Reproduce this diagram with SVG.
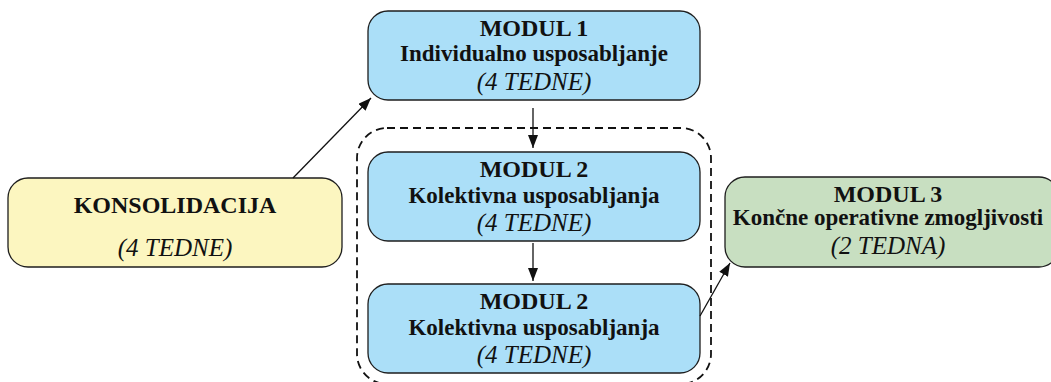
<svg xmlns="http://www.w3.org/2000/svg" width="1051" height="382" viewBox="0 0 1051 382">
<style>
.box{stroke:#1e1e1e;stroke-width:1.3}
.blue{fill:#abdff8}
.yellow{fill:#fcf6c0}
.green{fill:#c8dfc1}
.t{font-family:"Liberation Serif",serif;fill:#111;text-anchor:middle}
.h{font-weight:bold;font-size:24px}
.s{font-weight:bold;font-size:23px}
.i{font-style:italic;font-size:25px}
.edge{stroke:#111;stroke-width:1.3;fill:none;marker-end:url(#ah)}
</style>
<defs>
<marker id="ah" viewBox="0 0 13 10" refX="13" refY="5" markerWidth="13" markerHeight="10" markerUnits="userSpaceOnUse" orient="auto">
<path d="M0,0 L13,5 L0,10 Z" fill="#111"/>
</marker>
</defs>
<g id="group-modul2">
<rect x="357" y="128" width="354" height="256" rx="30" fill="none" stroke="#111" stroke-width="1.8" stroke-dasharray="8,5"/>
</g>
<g id="konsolidacija">
<rect class="box yellow" x="8" y="178" width="334" height="89" rx="20"/>
<text class="t h" x="175" y="213">KONSOLIDACIJA</text>
<text class="t i" x="175" y="256">(4 TEDNE)</text>
</g>
<g id="modul1">
<rect class="box blue" x="368" y="11" width="332" height="89" rx="20"/>
<text class="t h" x="534" y="36">MODUL 1</text>
<text class="t s" x="534" y="61">Individualno usposabljanje</text>
<text class="t i" x="534" y="90">(4 TEDNE)</text>
</g>
<g id="modul2a">
<rect class="box blue" x="368" y="152" width="332" height="89" rx="20"/>
<text class="t h" x="534" y="177">MODUL 2</text>
<text class="t s" x="534" y="203">Kolektivna usposabljanja</text>
<text class="t i" x="534" y="231">(4 TEDNE)</text>
</g>
<g id="modul2b">
<rect class="box blue" x="368" y="284" width="332" height="89" rx="20"/>
<text class="t h" x="534" y="309">MODUL 2</text>
<text class="t s" x="534" y="335">Kolektivna usposabljanja</text>
<text class="t i" x="534" y="363">(4 TEDNE)</text>
</g>
<g id="modul3">
<rect class="box green" x="725" y="177" width="334" height="90" rx="20"/>
<text class="t h" x="888" y="202">MODUL 3</text>
<text class="t s" x="888" y="225">Končne operativne zmogljivosti</text>
<text class="t i" x="888" y="254">(2 TEDNA)</text>
</g>
<g id="connectors">
<path class="edge" d="M293,178 L371,98"/>
<path class="edge" d="M533,108 L533,148"/>
<path class="edge" d="M533,243 L533,281"/>
<path class="edge" d="M700,316 L730,263"/>
</g>
</svg>
